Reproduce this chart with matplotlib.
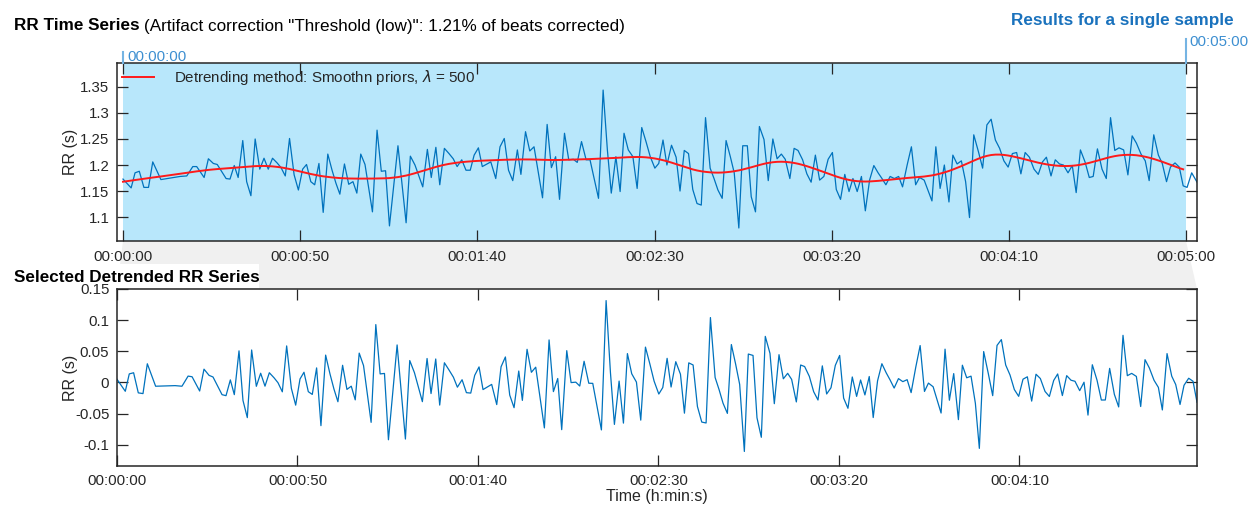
import numpy as np
import matplotlib
matplotlib.use("Agg")
import matplotlib.pyplot as plt
from matplotlib.patches import Polygon, Rectangle
from matplotlib.ticker import FuncFormatter

plt.rcParams['font.family'] = ['Liberation Sans', 'DejaVu Sans']

# beat times (s) and RR intervals (s)
t_beats = [0.0, 2.3, 3.4, 4.6, 5.9, 7.2, 8.4, 10.7, 16.1, 18.0, 19.7, 20.8, 22.9, 24.1, 25.5, 26.6,
           27.8, 29.1, 30.2, 31.4, 32.5, 33.8, 34.9, 36.1, 37.3, 38.6, 39.8, 41.0, 42.2, 43.5, 44.6,
           45.8, 47.0, 48.3, 49.5, 50.7, 51.8, 53.0, 54.1, 55.3, 56.5, 57.8, 59.0, 60.1, 61.2, 62.5,
           63.7, 64.9, 66.0, 67.1, 68.3, 70.4, 71.7, 72.9, 74.1, 75.2, 77.6, 79.9, 81.1, 82.4, 84.6,
           85.9, 87.0, 88.3, 89.4, 90.7, 92.0, 93.2, 94.3, 95.6, 96.8, 98.0, 99.1, 100.3, 101.4,
           103.8, 105.2, 106.4, 107.6, 108.8, 110.0, 111.3, 112.3, 113.6, 114.8, 116.0, 118.4,
           119.7, 120.9, 122.1, 123.2, 124.6, 125.8, 127.1, 128.2, 129.4, 130.7, 131.8, 134.2,
           135.5, 136.7, 137.8, 139.1, 140.3, 141.4, 142.6, 143.9, 145.1, 146.4, 147.6, 148.8,
           150.1, 151.2, 152.4, 153.5, 154.8, 156.1, 157.2, 158.4, 159.6, 160.8, 162.0, 163.2,
           164.4, 165.7, 166.8, 167.9, 169.1, 170.2, 171.4, 172.5, 173.8, 174.9, 176.2, 177.3,
           178.5, 179.6, 180.9, 182.1, 183.4, 184.6, 185.8, 186.9, 188.2, 189.4, 190.5, 191.8,
           193.0, 194.2, 195.4, 196.6, 197.8, 199.0, 200.2, 201.3, 202.5, 203.7, 204.9, 206.0,
           207.2, 208.4, 209.5, 210.7, 211.9, 213.1, 214.2, 215.3, 216.5, 217.7, 218.9, 220.0,
           221.3, 222.5, 223.7, 224.8, 226.1, 228.3, 229.4, 230.6, 231.8, 233.1, 234.2, 235.4,
           236.6, 237.8, 238.9, 240.1, 241.4, 242.6, 243.8, 245.0, 246.2, 247.4, 248.6, 249.8,
           251.0, 252.2, 253.4, 254.6, 255.8, 257.1, 258.3, 259.5, 260.6, 261.9, 263.1, 264.3,
           265.4, 266.7, 267.9, 269.0, 270.2, 271.5, 272.7, 273.8, 275.0, 276.3, 277.5, 278.7,
           279.9, 281.1, 282.4, 283.6, 284.8, 286.0, 287.3, 288.5, 289.6, 290.9, 292.2, 293.3,
           294.5, 295.6, 296.9, 298.1, 299.2, 300.3, 301.6, 303.2]
rr = [1.173, 1.156, 1.185, 1.188, 1.157, 1.157, 1.206, 1.172, 1.178, 1.179, 1.197, 1.197, 1.176,
      1.212, 1.203, 1.201, 1.188, 1.174, 1.173, 1.199, 1.176, 1.247, 1.168, 1.141, 1.250, 1.192,
      1.213, 1.192, 1.213, 1.204, 1.195, 1.179, 1.251, 1.181, 1.152, 1.192, 1.201, 1.168, 1.162,
      1.203, 1.109, 1.221, 1.190, 1.165, 1.144, 1.202, 1.163, 1.168, 1.146, 1.221, 1.201, 1.110,
      1.267, 1.188, 1.189, 1.083, 1.237, 1.089, 1.217, 1.200, 1.158, 1.230, 1.176, 1.234, 1.162,
      1.232, 1.222, 1.212, 1.197, 1.210, 1.190, 1.190, 1.219, 1.233, 1.197, 1.206, 1.174, 1.235,
      1.251, 1.190, 1.170, 1.229, 1.182, 1.264, 1.227, 1.235, 1.137, 1.278, 1.195, 1.216, 1.134,
      1.261, 1.210, 1.211, 1.205, 1.245, 1.210, 1.210, 1.136, 1.344, 1.229, 1.146, 1.216, 1.149,
      1.261, 1.229, 1.216, 1.155, 1.272, 1.245, 1.216, 1.194, 1.203, 1.248, 1.200, 1.238, 1.215,
      1.150, 1.228, 1.222, 1.153, 1.126, 1.123, 1.291, 1.194, 1.174, 1.152, 1.136, 1.247, 1.216,
      1.185, 1.079, 1.237, 1.237, 1.139, 1.110, 1.274, 1.249, 1.170, 1.250, 1.212, 1.221, 1.211,
      1.174, 1.232, 1.228, 1.210, 1.183, 1.167, 1.219, 1.171, 1.178, 1.211, 1.224, 1.153, 1.134,
      1.182, 1.149, 1.174, 1.149, 1.178, 1.112, 1.171, 1.199, 1.185, 1.174, 1.162, 1.178, 1.174,
      1.178, 1.158, 1.200, 1.235, 1.162, 1.176, 1.171, 1.131, 1.235, 1.155, 1.200, 1.129, 1.219,
      1.202, 1.208, 1.168, 1.099, 1.258, 1.226, 1.194, 1.277, 1.288, 1.248, 1.232, 1.208, 1.196,
      1.222, 1.224, 1.183, 1.224, 1.215, 1.192, 1.182, 1.206, 1.215, 1.179, 1.210, 1.202, 1.200,
      1.185, 1.199, 1.147, 1.229, 1.206, 1.176, 1.178, 1.231, 1.192, 1.174, 1.291, 1.228, 1.233,
      1.229, 1.181, 1.256, 1.242, 1.221, 1.208, 1.170, 1.258, 1.219, 1.203, 1.168, 1.196, 1.204,
      1.196, 1.160, 1.157, 1.185, 1.166]

window = (0, 300)          # selected sample (s)
lam = 500                  # smoothness priors parameter
top_ticks = [0, 50, 100, 150, 200, 250, 300]
top_yticks = [1.1, 1.15, 1.2, 1.25, 1.3, 1.35]
bot_yticks = [-0.1, -0.05, 0, 0.05, 0.1, 0.15]


def smoothn_priors(t, z, lam, fs=4.0):
    # smoothness priors trend on an evenly resampled series
    tt = np.arange(t[0], t[-1] + 1e-9, 1.0 / fs)
    zz = np.interp(tt, t, z)
    n = len(zz)
    D2 = np.zeros((n - 2, n))
    idx = np.arange(n - 2)
    D2[idx, idx] = 1
    D2[idx, idx + 1] = -2
    D2[idx, idx + 2] = 1
    trend = np.linalg.solve(np.eye(n) + lam ** 2 * D2.T @ D2, zz)
    return np.interp(t, tt, trend)


def hms(x, pos=None):
    s = int(round(x))
    return "%02d:%02d:%02d" % (s // 3600, (s // 60) % 60, s % 60)


t = np.array(t_beats)
y = np.array(rr)
sel = (t >= window[0]) & (t <= window[1])
trend = smoothn_priors(t[sel], y[sel], lam)
detr = y[sel] - trend

W, H = 1252, 508
fig = plt.figure(figsize=(W / 100, H / 100), dpi=100)
ink = '#262626'
blue = '#0072BD'

# connector shading between the panels, with the white box behind the lower title
conn = Polygon([(123 / W, 1 - 241 / H), (1186 / W, 1 - 241 / H), (1197 / W, 1 - 289 / H), (117 / W, 1 - 289 / H)],
               closed=True, transform=fig.transFigure, facecolor='#f0f0f0', edgecolor='none', zorder=-2)
fig.patches.append(conn)
fig.patches.append(Rectangle((0, 1 - 288 / H), 259 / W, 24 / H, transform=fig.transFigure,
                             facecolor='white', edgecolor='none', zorder=-1))

ax1 = fig.add_axes([117 / W, 1 - 241 / H, 1080 / W, 178 / H])
ax2 = fig.add_axes([117 / W, 1 - 466 / H, 1080 / W, 177 / H])

ax1.axvspan(window[0], window[1], color='#b8e7fb', zorder=0, lw=0)
ax1.plot(t, y, color=blue, lw=0.9, zorder=2)
ax1.plot(t[sel], trend, color='#ff1a1a', lw=1.4, zorder=3,
         label=r"Detrending method: Smoothn priors, $\lambda$ = %d" % lam)
ax1.set_xlim(-1.69, 303.1)
ax1.set_ylim(1.054, 1.396)
ax1.set_xticks(top_ticks)
ax1.set_yticks(top_yticks)
ax1.xaxis.set_major_formatter(FuncFormatter(hms))
ax1.yaxis.set_major_formatter(FuncFormatter(lambda v, p: "%g" % round(v, 3)))
ax1.set_ylabel("RR (s)", fontsize=11.5, color=ink)
ax1.yaxis.set_label_coords(-0.036, 0.5)
leg = ax1.legend(loc='upper left', bbox_to_anchor=(0.0, 1.0), frameon=False, fontsize=10.9,
                 handlelength=2.1, handletextpad=1.3, borderaxespad=0.0, borderpad=0.35)
leg.set_zorder(5)
for txt in leg.get_texts():
    txt.set_color(ink)

ax2.plot(t[sel], detr, color=blue, lw=0.9)
ax2.set_xlim(0, t[sel][-1])
ax2.set_ylim(-0.134, 0.15)
ax2.set_xticks(top_ticks[:-1])
ax2.set_yticks(bot_yticks)
ax2.xaxis.set_major_formatter(FuncFormatter(hms))
ax2.yaxis.set_major_formatter(FuncFormatter(lambda v, p: "%g" % round(v, 3)))
ax2.set_ylabel("RR (s)", fontsize=11.5, color=ink)
ax2.yaxis.set_label_coords(-0.036, 0.5)
ax2.set_xlabel("Time (h:min:s)", fontsize=11.5, color=ink, labelpad=1)

for ax, pad in ((ax1, 6.5), (ax2, 5.5)):
    ax.set_facecolor('white')
    for sp in ax.spines.values():
        sp.set_color(ink)
        sp.set_linewidth(1.1)
    ax.tick_params(direction='in', length=7.8, width=0.9, colors=ink, labelsize=10.8,
                   top=True, right=True)
    ax.tick_params(axis='x', pad=pad)
    ax.tick_params(axis='y', pad=5.5)

# selected window markers
lc = '#75b4e3'
fig.add_artist(plt.Line2D([123 / W, 123 / W], [1 - 63 / H, 1 - 52 / H], color=lc, lw=1.5))
fig.add_artist(plt.Line2D([1186 / W, 1186 / W], [1 - 63 / H, 1 - 39 / H], color=lc, lw=1.5))
fig.text(127 / W, 1 - 57 / H, hms(window[0]), color='#3d8fd1', fontsize=10.8, va='center', ha='left')
fig.text(1189 / W, 1 - 42 / H, hms(window[1]), color='#3d8fd1', fontsize=10.8, va='center', ha='left')
fig.text(1234 / W, 1 - 20 / H, "Results for a single sample", color='#1a72bd', fontsize=12.3,
         fontweight='bold', ha='right', va='center')

# panel titles
t1 = fig.text(14 / W, 1 - 26 / H, "RR Time Series", fontsize=12.3, fontweight='bold', va='center', ha='left')
fig.canvas.draw()
bb = t1.get_window_extent(fig.canvas.get_renderer())
fig.text(bb.x1 / W + 4 / W, 1 - 26 / H,
         '(Artifact correction "Threshold (low)": 1.21% of beats corrected)',
         fontsize=12.3, va='center', ha='left')
fig.text(14 / W, 1 - 277 / H, "Selected Detrended RR Series", fontsize=12.3, fontweight='bold',
         va='center', ha='left')

fig.savefig("out.png", dpi=100)
